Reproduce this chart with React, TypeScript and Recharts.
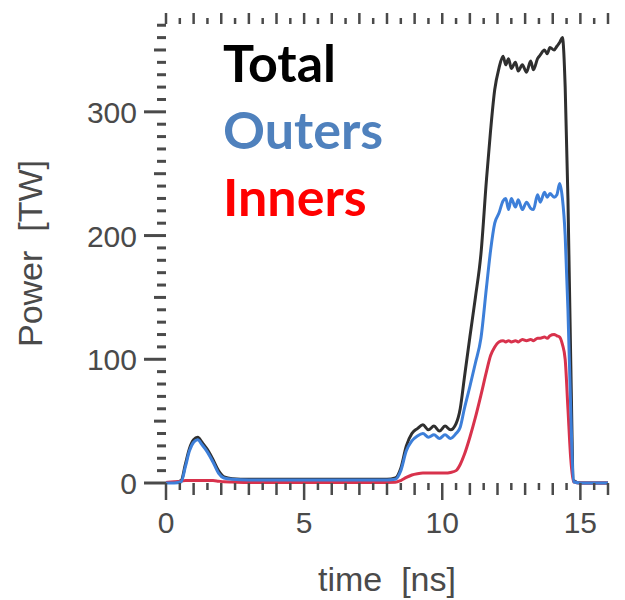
import { LineChart, Line, XAxis, YAxis, Legend } from 'recharts';

// time axis [ns] and the three power traces [TW]
const TIME = [
  0, 0.3, 0.55, 0.7, 0.85, 1.0, 1.15, 1.3, 1.5, 1.7, 1.9, 2.1, 2.4, 3, 4, 5, 6, 7, 8,
  8.3, 8.5, 8.7, 8.9, 9.1, 9.3, 9.5, 9.7, 9.9, 10.1, 10.3, 10.5, 10.65, 10.8, 11.0,
  11.2, 11.4, 11.6, 11.75, 11.9, 12.05, 12.2, 12.3, 12.4, 12.5, 12.65, 12.75, 12.9,
  13.05, 13.2, 13.3, 13.45, 13.55, 13.7, 13.8, 13.9, 14.05, 14.15, 14.25, 14.35,
  14.45, 14.55, 14.65, 14.75, 15.0, 16.0,
];
const TOTAL = [
  0.5, 0.5, 2, 15, 28, 35, 37, 33, 27, 19, 10, 5, 3.5, 3, 3, 3, 3, 3, 3,
  4, 12, 30, 40, 44, 47, 43, 46, 42, 46, 43, 48, 60, 85, 118,
  150, 185, 245, 285, 318, 335, 345, 338, 343, 335, 340, 333, 338,
  332, 341, 334, 343, 346, 350, 347, 352, 350, 353, 356, 360,
  320, 230, 100, 2, 0, 0,
];
const OUTERS = [
  0, 0, 1, 13, 26, 33, 35, 31, 25, 17, 8, 4, 3, 2.5, 2.5, 2.5, 2.5, 2.5, 2.5,
  3, 10, 26, 34, 38, 40, 37, 39, 36, 39, 36, 40, 45, 60, 78,
  97, 117, 158, 188, 210, 218, 228, 230, 221, 230, 223, 229, 221,
  227, 222, 221, 233, 227, 235, 231, 234, 231, 233, 242, 230,
  200, 140, 60, 1, 0, 0,
];
const INNERS = [
  0.5, 1, 1.5, 2, 2, 2, 2, 2, 2, 2, 1.5, 1, 0.8, 0.5, 0.5, 0.5, 0.5, 0.5, 0.5,
  0.6, 2, 4.5, 6.5, 7.5, 8, 8, 8, 8, 8, 8.5, 10, 15, 23, 37,
  53, 71, 90, 103, 110, 114, 115, 114, 115, 114, 115, 114, 116,
  115, 116, 115, 117, 117, 118, 117, 119, 120, 119, 118, 112,
  100, 60, 20, 1, 0, 0,
];

const X_LABELS = [0, 5, 10, 15];
const Y_LABELS = [0, 100, 200, 300];
const X_DOMAIN = [0, 16];
const Y_DOMAIN = [0, 371];

const LEGEND_ORDER = ['Total', 'Outers', 'Inners'];
const LEGEND_COLORS: Record<string, string> = {
  Total: '#000000',
  Outers: '#4f81bd',
  Inners: '#ff0000',
};

const INK = '#4a4a4a';
const FONT = '"Liberation Sans", Arial, sans-serif';

const xTicks: number[] = [];
for (let i = 0; i <= 32; i++) xTicks.push(i / 2);
const yTicks: number[] = [];
for (let i = 0; i <= 37; i++) yTicks.push(i * 10);

const data = TIME.map((t, i) => ({
  t,
  total: TOTAL[i],
  outers: OUTERS[i],
  inners: INNERS[i],
}));

function BottomTick({ x, y, payload }: any) {
  const v = payload.value;
  const major = X_LABELS.includes(v);
  const len = major ? 17 : Number.isInteger(v) ? 12 : 7;
  return (
    <g>
      <line x1={x} x2={x} y1={y} y2={y + len} stroke={INK} strokeWidth={2.5} />
      {major && (
        <text x={x} y={y + 50} textAnchor="middle" fontSize={30} fill={INK} fontFamily={FONT}>
          {v}
        </text>
      )}
    </g>
  );
}

function TopTick({ x, y, payload }: any) {
  const v = payload.value;
  const len = Number.isInteger(v) ? 11 : 6;
  return <line x1={x} x2={x} y1={y} y2={y - len} stroke={INK} strokeWidth={2.5} />;
}

function LeftTick({ x, y, payload }: any) {
  const v = payload.value;
  const major = Y_LABELS.includes(v);
  const len = major ? 22 : v % 50 === 0 ? 12 : 9;
  return (
    <g>
      <line x1={x} x2={x - len} y1={y} y2={y} stroke={INK} strokeWidth={3} />
      {major && (
        <text x={x - 29} y={y + 11} textAnchor="end" fontSize={30} fill={INK} fontFamily={FONT}>
          {v}
        </text>
      )}
    </g>
  );
}

function RightTick({ x, y, payload }: any) {
  const v = payload.value;
  const len = Y_LABELS.includes(v) ? 14 : 9;
  return <line x1={x} x2={x + len} y1={y} y2={y} stroke={INK} strokeWidth={3} />;
}

function YTitle(props: any) {
  const vb = props.viewBox || { x: 0, y: 24, width: 166, height: 459 };
  const cx = vb.x + 30;
  const cy = vb.y + vb.height / 2;
  return (
    <text
      x={cx}
      y={cy}
      transform={`rotate(-90, ${cx}, ${cy})`}
      textAnchor="middle"
      dominantBaseline="central"
      fontSize={34}
      fill={INK}
      fontFamily={FONT}
      style={{ whiteSpace: 'pre' }}
    >
      {'Power  [TW]'}
    </text>
  );
}

function LegendContent({ payload }: any) {
  const items = LEGEND_ORDER.map((n) => (payload || []).find((p: any) => p.value === n)).filter(Boolean);
  return (
    <div style={{ fontFamily: 'Lato, sans-serif', fontWeight: 700, fontSize: 52, lineHeight: '67px' }}>
      {items.map((it: any) => (
        <div key={it.value} style={{ color: LEGEND_COLORS[it.value] }}>
          {it.value}
        </div>
      ))}
    </div>
  );
}

export default function App() {
  return (
    <div style={{ position: 'absolute', left: 0, top: 0, width: 625, height: 600, background: '#fff' }}>
      <LineChart width={625} height={600} data={data} margin={{ top: 0, right: 0, bottom: 0, left: 0 }}>
        <XAxis
          dataKey="t"
          type="number"
          domain={X_DOMAIN}
          ticks={xTicks}
          interval={0}
          height={117}
          axisLine={false}
          tickLine={false}
          tickSize={0}
          tickMargin={0}
          tick={<BottomTick />}
          label={{ value: 'time\u00a0 [ns]', position: 'insideBottom', offset: 9, fontSize: 34, fill: INK, fontFamily: FONT }}
        />
        <XAxis
          xAxisId="top"
          orientation="top"
          dataKey="t"
          type="number"
          domain={X_DOMAIN}
          ticks={xTicks}
          interval={0}
          height={24}
          axisLine={false}
          tickLine={false}
          tickSize={0}
          tickMargin={0}
          tick={<TopTick />}
        />
        <YAxis
          type="number"
          domain={Y_DOMAIN}
          ticks={yTicks}
          interval={0}
          width={166}
          axisLine={false}
          tickLine={false}
          tickSize={0}
          tickMargin={0}
          tick={<LeftTick />}
          label={YTitle}
        />
        <YAxis
          yAxisId="right"
          orientation="right"
          type="number"
          domain={Y_DOMAIN}
          ticks={yTicks}
          interval={0}
          width={17}
          axisLine={false}
          tickLine={false}
          tickSize={0}
          tickMargin={0}
          tick={<RightTick />}
        />
        <Legend
          layout="vertical"
          align="center"
          verticalAlign="middle"
          content={<LegendContent />}
          wrapperStyle={{ left: 223, top: 29, width: 'auto', height: 'auto' }}
        />
        <Line name="Total" dataKey="total" type="monotone" stroke="#2f2f2f" strokeWidth={3} dot={false} isAnimationActive={false} />
        <Line name="Inners" dataKey="inners" type="monotone" stroke="#d8324c" strokeWidth={3} dot={false} isAnimationActive={false} />
        <Line name="Outers" dataKey="outers" type="monotone" stroke="#3d7fd9" strokeWidth={3} dot={false} isAnimationActive={false} />
      </LineChart>
    </div>
  );
}
